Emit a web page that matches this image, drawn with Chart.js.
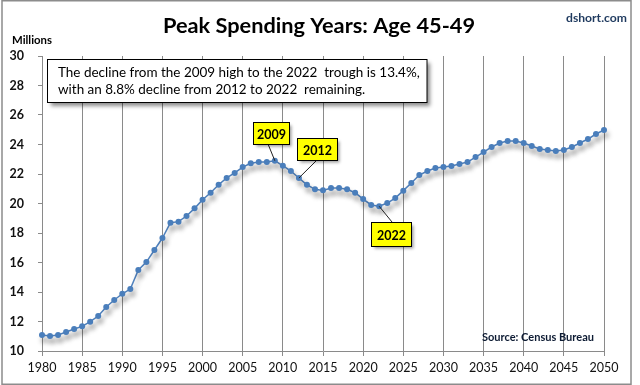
<!DOCTYPE html>
<html><head><meta charset="utf-8">
<script src="https://cdn.jsdelivr.net/npm/chart.js@4/dist/chart.umd.min.js"></script>
<style>html,body{margin:0;padding:0;background:#fff}#wrap{width:640px;height:385px;position:relative}</style>
</head><body><div id="wrap"><canvas id="c" width="640" height="385"></canvas></div>
<script>
const years = [1980,1981,1982,1983,1984,1985,1986,1987,1988,1989,1990,1991,1992,1993,1994,1995,1996,1997,1998,1999,
  2000,2001,2002,2003,2004,2005,2006,2007,2008,2009,2010,2011,2012,2013,2014,2015,2016,2017,2018,2019,
  2020,2021,2022,2023,2024,2025,2026,2027,2028,2029,2030,2031,2032,2033,2034,2035,2036,2037,2038,2039,
  2040,2041,2042,2043,2044,2045,2046,2047,2048,2049,2050];
const population = [11.08,11.02,11.08,11.29,11.49,11.67,11.99,12.37,12.98,13.46,13.88,14.20,15.49,16.03,16.85,17.66,18.70,18.77,19.15,19.67,
  20.26,20.73,21.27,21.73,22.07,22.47,22.73,22.81,22.81,22.90,22.56,22.20,21.73,21.27,20.96,20.89,21.05,21.05,20.96,20.73,
  20.30,19.90,19.81,20.03,20.37,20.87,21.39,21.93,22.20,22.41,22.47,22.54,22.68,22.81,23.15,23.49,23.83,24.10,24.24,24.24,
  24.10,23.90,23.69,23.63,23.56,23.63,23.83,24.10,24.37,24.71,24.98];
const yTickValues = [10,12,14,16,18,20,22,24,26,28,30];
const xTickValues = [1980,1985,1990,1995,2000,2005,2010,2015,2020,2025,2030,2035,2040,2045,2050];
const chartTitle = 'Peak Spending Years: Age 45-49';
const unitLabel = 'Millions';
const creditLabel = 'dshort.com';
const sourceLabel = 'Source: Census Bureau';
const noteLines = ['The decline from the 2009 high to the 2022  trough is 13.4%,',
                   'with an 8.8% decline from 2012 to 2022  remaining.'];
const calloutYears = [2009, 2012, 2022];

// layout of callout boxes (pixels): [x, y, w, h, anchorX, anchorY on box]
const calloutBoxes = {
  2009: [253, 122, 36, 22, 268, 144],
  2012: [297, 138, 40, 22, 317, 160],
  2022: [371, 222, 40, 24, 392, 222]
};
const FONT = 'Lato, "Open Sans", sans-serif';

function fitFont(ctx, text, weight, target, start) {
  let size = start;
  ctx.font = weight + ' ' + size + 'px ' + FONT;
  const w = ctx.measureText(text).width;
  size = size * target / w;
  return weight + ' ' + size.toFixed(2) + 'px ' + FONT;
}

const dataPoints = years.map((y, i) => ({x: y, y: population[i]}));

const shadowPlugin = {
  id: 'lineShadow',
  beforeDatasetDraw(chart) {
    const ctx = chart.ctx;
    ctx.save();
    ctx.shadowColor = 'rgba(0,0,0,0.3)';
    ctx.shadowBlur = 5;
    ctx.shadowOffsetX = 2;
    ctx.shadowOffsetY = 5;
  },
  afterDatasetDraw(chart) { chart.ctx.restore(); }
};

const decorPlugin = {
  id: 'decor',
  beforeDraw(chart) {
    const ctx = chart.ctx;
    ctx.save();
    ctx.fillStyle = '#fff';
    ctx.fillRect(0, 0, chart.width, chart.height);
    ctx.restore();
  },
  afterDatasetsDraw(chart) {
    const ctx = chart.ctx;
    const xs = chart.scales.x, ys = chart.scales.y;
    ctx.save();
    // note box
    ctx.save();
    ctx.shadowColor = 'rgba(0,0,0,0.45)';
    ctx.shadowBlur = 4; ctx.shadowOffsetX = 3; ctx.shadowOffsetY = 3;
    ctx.fillStyle = '#fff';
    ctx.fillRect(47.5, 59.5, 379.5, 43);
    ctx.restore();
    ctx.strokeStyle = '#000'; ctx.lineWidth = 1;
    ctx.strokeRect(47.5, 59.5, 379.5, 43);
    ctx.fillStyle = '#000';
    ctx.textBaseline = 'alphabetic'; ctx.textAlign = 'left';
    const nf = fitFont(ctx, noteLines[0], 'normal', 362, 14);
    ctx.font = nf;
    ctx.fillText(noteLines[0], 58, 76.5);
    ctx.fillText(noteLines[1], 58, 94);

    // callouts
    calloutYears.forEach(yr => {
      const idx = years.indexOf(yr);
      const px = xs.getPixelForValue(yr), py = ys.getPixelForValue(population[idx]);
      const b = calloutBoxes[yr];
      ctx.strokeStyle = '#222'; ctx.lineWidth = 1;
      ctx.beginPath(); ctx.moveTo(px, py); ctx.lineTo(b[4], b[5]); ctx.stroke();
      ctx.save();
      ctx.shadowColor = 'rgba(0,0,0,0.4)';
      ctx.shadowBlur = 3; ctx.shadowOffsetX = 2; ctx.shadowOffsetY = 2;
      ctx.fillStyle = '#ffff00';
      ctx.fillRect(b[0] + 0.5, b[1] + 0.5, b[2], b[3]);
      ctx.restore();
      ctx.strokeStyle = '#000';
      ctx.strokeRect(b[0] + 0.5, b[1] + 0.5, b[2], b[3]);
      ctx.fillStyle = '#000';
      ctx.font = fitFont(ctx, String(yr), 'bold', 29, 13);
      ctx.textAlign = 'center'; ctx.textBaseline = 'middle';
      ctx.fillText(String(yr), b[0] + b[2] / 2 + 0.5, b[1] + b[3] / 2 + 1.5);
    });
    ctx.restore();
  },
  afterDraw(chart) {
    const ctx = chart.ctx;
    ctx.save();
    ctx.fillStyle = '#000';
    ctx.textAlign = 'center'; ctx.textBaseline = 'alphabetic';
    ctx.font = fitFont(ctx, chartTitle, 'bold', 312, 22);
    ctx.fillText(chartTitle, 319, 33);
    ctx.textAlign = 'left';
    ctx.font = fitFont(ctx, unitLabel, 'bold', 40, 12);
    ctx.fillText(unitLabel, 12, 44);
    ctx.fillStyle = '#1f3a5f';
    ctx.font = fitFont(ctx, creditLabel, 'bold', 61, 13);
    ctx.fillText(creditLabel, 566, 21.5);
    ctx.fillStyle = '#0d1b33';
    ctx.font = fitFont(ctx, sourceLabel, 'bold', 112, 12);
    ctx.fillText(sourceLabel, 482, 341);
    // outer border
    ctx.strokeStyle = '#8c8c8c'; ctx.lineWidth = 1.5;
    ctx.strokeRect(2, 0.75, 629, 383.5);
    ctx.restore();
  }
};

new Chart(document.getElementById('c'), {
  type: 'line',
  data: { datasets: [{
    data: dataPoints,
    borderColor: '#4F81BD',
    backgroundColor: '#4F81BD',
    borderWidth: 1.5,
    pointRadius: 3,
    pointBorderWidth: 0,
    pointBackgroundColor: '#4A7EBB',
    tension: 0,
    clip: false
  }]},
  options: {
    responsive: false,
    devicePixelRatio: 1,
    animation: false,
    events: [],
    layout: { padding: { left: 0, right: 36, top: 56, bottom: 0 } },
    plugins: { legend: { display: false }, tooltip: { enabled: false } },
    scales: {
      x: {
        type: 'linear', min: 1980, max: 2050,
        afterBuildTicks(s) { s.ticks = xTickValues.map(v => ({value: v})); },
        afterFit(s) { s.height = 34; },
        ticks: { callback: v => String(v), color: '#111', padding: 4, maxRotation: 0,
                 font: { family: FONT, size: 12.5 } },
        grid: { color: '#8a8a8a', lineWidth: 1, tickLength: 5, drawOnChartArea: true },
        border: { color: '#8a8a8a', width: 1 }
      },
      y: {
        min: 10, max: 30,
        afterBuildTicks(s) { s.ticks = yTickValues.map(v => ({value: v})); },
        afterFit(s) { s.width = 42; },
        ticks: { color: '#111', padding: 14, font: { family: FONT, size: 12.5, weight: 'bold' } },
        grid: { color: '#8a8a8a', drawOnChartArea: false, tickLength: 4 },
        border: { color: '#8a8a8a', width: 1 }
      }
    }
  },
  plugins: [shadowPlugin, decorPlugin]
});
</script>
</body></html>
